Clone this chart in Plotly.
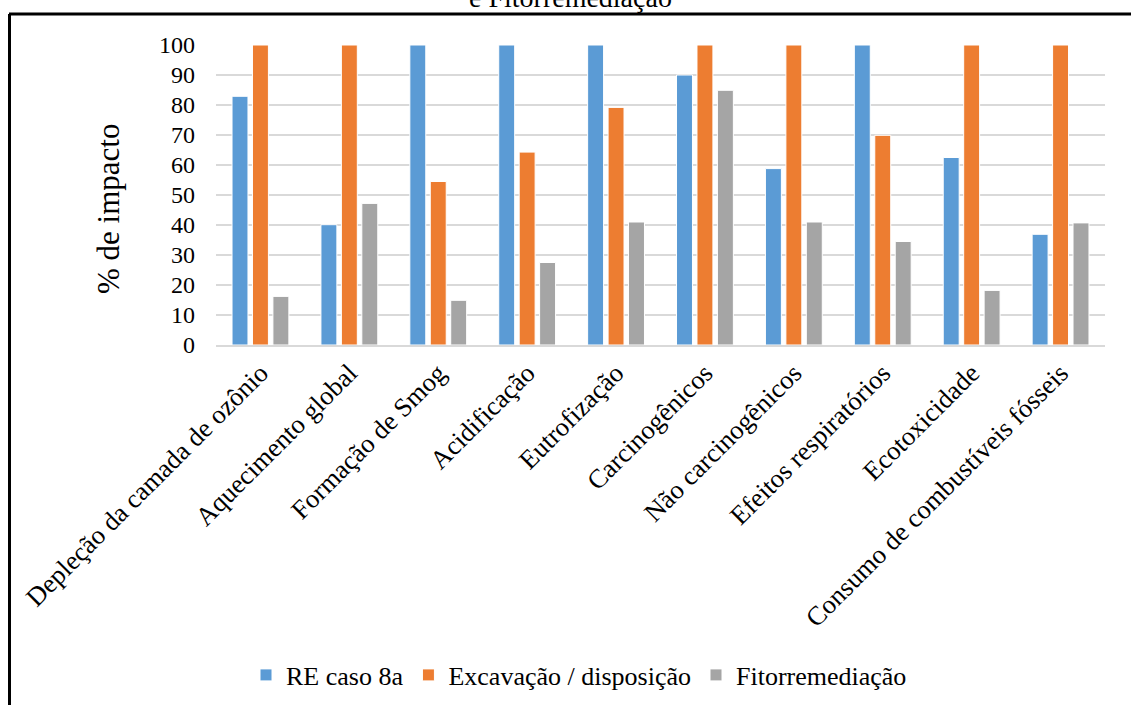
import plotly.graph_objects as go

# Impact categories (x axis)
categorias = [
    "Depleção da camada de ozônio",
    "Aquecimento global",
    "Formação de Smog",
    "Acidificação",
    "Eutrofização",
    "Carcinogênicos",
    "Não carcinogênicos",
    "Efeitos respiratórios",
    "Ecotoxicidade",
    "Consumo de combustíveis fósseis",
]

# Percent of impact per scenario
re_caso_8a = [82.9, 40.1, 100, 100, 100, 90.0, 58.8, 100, 62.5, 36.9]
excavacao = [100, 100, 54.5, 64.3, 79.2, 100, 100, 69.9, 100, 100]
fitorremediacao = [16.2, 47.2, 14.9, 27.5, 41.0, 84.9, 41.0, 34.5, 18.2, 40.7]

y_ticks = [0, 10, 20, 30, 40, 50, 60, 70, 80, 90, 100]

FONT = "Liberation Serif, Times New Roman, serif"
W, H = 1131, 705
L, R, T, B = 216, 26, 45, 360  # plot area: x 216..1105, y 45..345
PW, PH = W - L - R, H - T - B


def px_x(px):
    return (px - L) / PW


def px_y(py):
    return (H - B - py) / PH


fig = go.Figure()
series = [
    ("RE caso 8a", re_caso_8a, "#5B9BD5"),
    ("Excavação / disposição", excavacao, "#ED7D31"),
    ("Fitorremediação", fitorremediacao, "#A5A5A5"),
]
for nome, vals, cor in series:
    fig.add_trace(go.Bar(
        x=categorias, y=vals, name=nome,
        marker=dict(color=cor, line=dict(color="white", width=1)),
    ))

fig.update_layout(
    width=W, height=H,
    margin=dict(l=L, r=R, t=T, b=B, autoexpand=False),
    paper_bgcolor="white", plot_bgcolor="white",
    barmode="group", bargap=0.31, bargroupgap=0.22,
    font=dict(family=FONT, color="black", size=24),
    showlegend=True,
    legend=dict(
        orientation="h", x=px_x(579), xanchor="center",
        y=px_y(675), yanchor="middle",
        font=dict(family=FONT, size=26, color="black"),
        itemwidth=30, tracegroupgap=0, bgcolor="rgba(0,0,0,0)",
    ),
)

fig.update_xaxes(
    tickangle=-45, tickfont=dict(family=FONT, size=26.5, color="black"),
    showgrid=False, showline=True, linecolor="#d9d9d9", linewidth=2,
    ticks="", automargin=False,
)
fig.update_yaxes(
    range=[0, 100], tickvals=y_ticks, ticktext=[str(v) for v in y_ticks],
    tickfont=dict(family=FONT, size=24, color="black"),
    showgrid=True, gridcolor="#d9d9d9", gridwidth=1.5,
    zeroline=False, showline=False, ticks="", ticklabelstandoff=20,
    automargin=False,
)

# Axis title
fig.add_annotation(
    text="% de impacto", textangle=-90,
    x=px_x(108), y=px_y(209), xref="paper", yref="paper",
    xanchor="center", yanchor="middle", showarrow=False,
    font=dict(family=FONT, size=31, color="black"),
)

# Chart title (continuation line at the top edge)
fig.add_annotation(
    text="e Fitorremediação",
    x=px_x(570), y=px_y(-3), xref="paper", yref="paper",
    xanchor="center", yanchor="middle", showarrow=False,
    font=dict(family=FONT, size=28, color="black"),
)

# Frame lines around the chart area
fig.add_shape(type="line", xref="paper", yref="paper",
              x0=px_x(9), x1=px_x(1140), y0=px_y(14), y1=px_y(14),
              line=dict(color="black", width=3), layer="above")
fig.add_shape(type="line", xref="paper", yref="paper",
              x0=px_x(9.5), x1=px_x(9.5), y0=px_y(14), y1=px_y(720),
              line=dict(color="black", width=3), layer="above")

fig.write_html("out.html")
